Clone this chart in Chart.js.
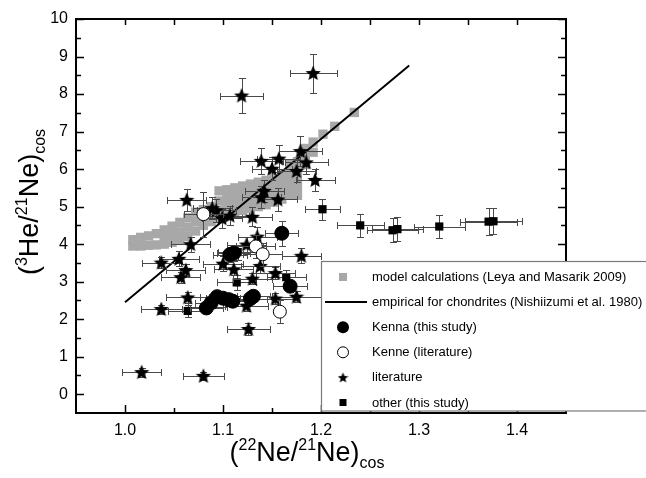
<!DOCTYPE html>
<html>
<head>
<meta charset="utf-8">
<script src="https://cdn.jsdelivr.net/npm/chart.js@4.4.1/dist/chart.umd.min.js"></script>
<style>
  html, body { margin: 0; padding: 0; background: #fff; }
  #wrap { width: 646px; height: 478px; }
</style>
</head>
<body>
<div id="wrap"><canvas id="neChart" width="646" height="478"></canvas></div>
<script>
// model calculations (Leya and Masarik 2009)
const modelX = [
  1.008, 1.008, 1.016, 1.016, 1.024, 1.024, 1.032, 1.032,
  1.040, 1.040, 1.040, 1.048, 1.048, 1.048, 1.056, 1.056, 1.056,
  1.064, 1.064, 1.064, 1.072, 1.072, 1.072, 1.080, 1.080, 1.080,
  1.088, 1.088, 1.088, 1.096, 1.096, 1.096, 1.096, 1.104, 1.104, 1.104, 1.104,
  1.112, 1.112, 1.112, 1.112, 1.120, 1.120, 1.120, 1.120, 1.128, 1.128, 1.128, 1.128,
  1.136, 1.136, 1.136, 1.136, 1.144, 1.144, 1.144, 1.144, 1.152, 1.152, 1.152, 1.152,
  1.160, 1.160, 1.160, 1.160, 1.168, 1.168, 1.168, 1.168, 1.168,
  1.176, 1.176, 1.176, 1.176, 1.176, 1.184, 1.184, 1.184, 1.192, 1.192,
  1.202, 1.214, 1.234
];
const modelY = [
  3.95, 4.12, 3.95, 4.18, 3.97, 4.22, 3.98, 4.28,
  4.0, 4.2, 4.38, 4.05, 4.25, 4.48, 4.1, 4.33, 4.58,
  4.2, 4.45, 4.7, 4.35, 4.6, 4.85, 4.5, 4.72, 4.92,
  4.6, 4.82, 5.0, 4.68, 4.9, 5.15, 5.42, 4.76, 5.0, 5.22, 5.45,
  4.85, 5.05, 5.27, 5.5, 4.9, 5.1, 5.32, 5.55, 4.95, 5.15, 5.37, 5.6,
  5.0, 5.2, 5.42, 5.65, 5.05, 5.27, 5.48, 5.7, 5.12, 5.33, 5.55, 5.75,
  5.2, 5.4, 5.62, 5.85, 5.3, 5.5, 5.72, 5.93, 6.12,
  5.3, 5.52, 5.75, 5.98, 6.2, 6.12, 6.35, 6.55, 6.45, 6.72,
  6.93, 7.14, 7.51
];

// empirical for chondrites (Nishiizumi et al. 1980)
const lineX = [1.0, 1.29];
const lineY = [2.45, 8.76];

// Kenna (this study)
const kennaX = [1.160, 1.107, 1.111, 1.083, 1.088, 1.094, 1.100, 1.106, 1.110, 1.128, 1.131, 1.1685];
const kennaY = [4.29, 3.72, 3.76, 2.30, 2.44, 2.60, 2.56, 2.52, 2.48, 2.55, 2.61, 2.88];
const kennaXErr = [0.017, 0.017, 0.017, 0.017, 0.017, 0.017, 0.017, 0.017, 0.017, 0.017, 0.017, 0.017];
const kennaYErr = [0.33, 0.2, 0.2, 0.12, 0.12, 0.12, 0.12, 0.12, 0.12, 0.12, 0.12, 0.15];

// Kenne (literature)
const kenneX = [1.080, 1.1335, 1.1405, 1.158];
const kenneY = [4.80, 3.94, 3.73, 2.20];
const kenneXErr = [0.02, 0.02, 0.02, 0.0];
const kenneYErr = [0.6, 0.3, 0.3, 0.3];

// literature
const litX = [1.119, 1.192, 1.017, 1.080, 1.126, 1.037, 1.064, 1.124, 1.1535, 1.175,
  1.037, 1.055, 1.062, 1.057, 1.067, 1.100, 1.111, 1.130, 1.138, 1.1535, 1.180, 1.124,
  1.135, 1.063, 1.089, 1.093, 1.099, 1.107, 1.130, 1.139, 1.157, 1.150, 1.179, 1.185,
  1.175, 1.194, 1.142, 1.139, 1.156];
const litY = [7.96, 8.56, 0.59, 0.49, 1.74, 2.27, 2.58, 2.36, 2.55, 2.60,
  3.51, 3.61, 3.31, 3.12, 4.00, 3.48, 3.33, 3.08, 3.42, 3.23, 3.69, 3.99,
  4.20, 5.18, 4.96, 4.90, 4.69, 4.76, 4.73, 6.22, 6.28, 6.01, 6.48, 6.18,
  5.95, 5.71, 5.42, 5.25, 5.19];
const litXErr = [0.022, 0.024, 0.020, 0.021, 0.022, 0.021, 0.022, 0.022, 0.022, 0.025,
  0.020, 0.020, 0.020, 0.020, 0.020, 0.020, 0.020, 0.020, 0.020, 0.020, 0.020, 0.020,
  0.020, 0.020, 0.020, 0.020, 0.020, 0.020, 0.020, 0.022, 0.022, 0.020, 0.022, 0.022,
  0.020, 0.020, 0.020, 0.020, 0.020];
const litYErr = [0.47, 0.52, 0.12, 0.10, 0.15, 0.12, 0.15, 0.15, 0.15, 0.15,
  0.15, 0.20, 0.15, 0.15, 0.20, 0.20, 0.15, 0.15, 0.20, 0.15, 0.20, 0.20,
  0.25, 0.30, 0.30, 0.30, 0.25, 0.25, 0.25, 0.35, 0.35, 0.30, 0.40, 0.30,
  0.30, 0.30, 0.30, 0.30, 0.30];

// other (this study)
const otherX = [1.064, 1.084, 1.114, 1.115, 1.1645, 1.2015, 1.240, 1.273, 1.278, 1.3207, 1.371, 1.376];
const otherY = [2.22, 2.32, 2.98, 3.79, 3.12, 4.93, 4.50, 4.37, 4.40, 4.47, 4.60, 4.61];
const otherXErr = [0.02, 0.02, 0.02, 0.02, 0.02, 0.018, 0.024, 0.026, 0.026, 0.026, 0.029, 0.029];
const otherYErr = [0.15, 0.15, 0.2, 0.2, 0.2, 0.28, 0.3, 0.32, 0.32, 0.3, 0.35, 0.35];

const xTicks = [1.0, 1.1, 1.2, 1.3, 1.4];
const yTicks = [0, 1, 2, 3, 4, 5, 6, 7, 8, 9, 10];

const legendLabels = [
  'model calculations (Leya and Masarik 2009)',
  'empirical for chondrites (Nishiizumi et al. 1980)',
  'Kenna (this study)',
  'Kenne (literature)',
  'literature',
  'other (this study)'
];

const FONT = '"Liberation Sans", Arial, Helvetica, sans-serif';
const GREY = '#a8a8a8';

function pts(xs, ys) {
  return xs.map((x, i) => ({ x: x, y: ys[i] }));
}

function starImage(size) {
  const c = document.createElement('canvas');
  c.width = c.height = size;
  const g = c.getContext('2d');
  const R = size / 2, r = R * 0.45;
  g.beginPath();
  for (let i = 0; i < 10; i++) {
    const a = -Math.PI / 2 + i * Math.PI / 5;
    const rad = i % 2 ? r : R;
    g.lineTo(R + rad * Math.cos(a), R + 0.6 + rad * Math.sin(a));
  }
  g.closePath();
  g.fillStyle = '#000';
  g.fill();
  return c;
}
const starBig = starImage(16);
const starSmall = starImage(11);

// error bars drawn just before each dataset's own points
const errorBars = {
  id: 'errorBars',
  beforeDatasetDraw(chart, args) {
    const ds = chart.data.datasets[args.index];
    if (!ds.xErr) return;
    const xs = chart.scales.x, ys = chart.scales.y;
    const ctx = chart.ctx, a = chart.chartArea;
    ctx.save();
    ctx.beginPath();
    ctx.rect(a.left, a.top, a.right - a.left, a.bottom - a.top);
    ctx.clip();
    ctx.strokeStyle = '#4a4a4a';
    ctx.lineWidth = 1;
    ctx.beginPath();
    ds.data.forEach((p, i) => {
      const px = Math.round(xs.getPixelForValue(p.x)) + 0.5;
      const py = Math.round(ys.getPixelForValue(p.y)) + 0.5;
      const cap = 3.5;
      if (ds.xErr[i] > 0) {
        const x0 = Math.round(xs.getPixelForValue(p.x - ds.xErr[i])) + 0.5;
        const x1 = Math.round(xs.getPixelForValue(p.x + ds.xErr[i])) + 0.5;
        ctx.moveTo(x0, py); ctx.lineTo(x1, py);
        ctx.moveTo(x0, py - cap); ctx.lineTo(x0, py + cap);
        ctx.moveTo(x1, py - cap); ctx.lineTo(x1, py + cap);
      }
      if (ds.yErr[i] > 0) {
        const y0 = Math.round(ys.getPixelForValue(p.y - ds.yErr[i])) + 0.5;
        const y1 = Math.round(ys.getPixelForValue(p.y + ds.yErr[i])) + 0.5;
        ctx.moveTo(px, y0); ctx.lineTo(px, y1);
        ctx.moveTo(px - cap, y0); ctx.lineTo(px + cap, y0);
        ctx.moveTo(px - cap, y1); ctx.lineTo(px + cap, y1);
      }
    });
    ctx.stroke();
    ctx.restore();
  }
};

function drawRich(ctx, parts, cx, baseline) {
  let total = 0;
  parts.forEach(p => {
    ctx.font = p.size + 'px ' + FONT;
    p.w = ctx.measureText(p.t).width;
    total += p.w;
  });
  let x = cx - total / 2;
  ctx.textAlign = 'left';
  ctx.textBaseline = 'alphabetic';
  parts.forEach(p => {
    ctx.font = p.size + 'px ' + FONT;
    ctx.fillText(p.t, x, baseline + p.dy);
    x += p.w;
  });
}

// frame, inward ticks, axis titles and the boxed legend
const decorations = {
  id: 'decorations',
  afterDraw(chart) {
    const ctx = chart.ctx, a = chart.chartArea;
    const xs = chart.scales.x, ys = chart.scales.y;
    ctx.save();
    ctx.strokeStyle = '#000';
    ctx.lineWidth = 1.5;
    ctx.beginPath();
    // y ticks, left and right, major and half-step minor
    yTicks.forEach((v, i) => {
      const py = Math.round(ys.getPixelForValue(v)) + 0.5;
      ctx.moveTo(a.left, py); ctx.lineTo(a.left + 8, py);
      ctx.moveTo(a.right, py); ctx.lineTo(a.right - 8, py);
      const mv = i < yTicks.length - 1 ? (v + yTicks[i + 1]) / 2 : null;
      if (mv !== null) {
        const my = Math.round(ys.getPixelForValue(mv)) + 0.5;
        ctx.moveTo(a.left, my); ctx.lineTo(a.left + 5, my);
        ctx.moveTo(a.right, my); ctx.lineTo(a.right - 5, my);
      }
    });
    // x ticks, bottom major/minor, top every half step
    xTicks.forEach((v, i) => {
      const px = Math.round(xs.getPixelForValue(v)) + 0.5;
      ctx.moveTo(px, a.bottom); ctx.lineTo(px, a.bottom - 8);
      ctx.moveTo(px, a.top); ctx.lineTo(px, a.top + 6);
      if (i < xTicks.length - 1) {
        const mx = Math.round(xs.getPixelForValue((v + xTicks[i + 1]) / 2)) + 0.5;
        ctx.moveTo(mx, a.bottom); ctx.lineTo(mx, a.bottom - 5);
        ctx.moveTo(mx, a.top); ctx.lineTo(mx, a.top + 6);
      }
    });
    ctx.stroke();

    // plot frame
    ctx.strokeStyle = '#000';
    ctx.lineWidth = 2;
    ctx.strokeRect(a.left, a.top, a.right - a.left, a.bottom - a.top);

    // legend box, drawn over the plot
    const lx = 321.5, ly = 261.5, lb = 411;
    ctx.fillStyle = '#fff';
    ctx.fillRect(lx, ly, 646 - lx, lb - ly);
    ctx.strokeStyle = '#7a7a7a';
    ctx.lineWidth = 1.2;
    ctx.strokeRect(lx, ly, 660 - lx, lb - ly);

    // legend entries
    const symX = 343, textX = 372, row0 = 277, rowH = 25.1;
    legendLabels.forEach((label, i) => {
      const cy = row0 + i * rowH;
      ctx.fillStyle = '#000';
      ctx.strokeStyle = '#000';
      if (i === 0) {
        ctx.fillStyle = GREY;
        ctx.fillRect(symX - 4, cy - 4, 8, 8);
      } else if (i === 1) {
        ctx.lineWidth = 2;
        ctx.beginPath(); ctx.moveTo(325, cy); ctx.lineTo(367, cy); ctx.stroke();
      } else if (i === 2) {
        ctx.beginPath(); ctx.arc(symX, cy, 6, 0, Math.PI * 2); ctx.fill();
      } else if (i === 3) {
        ctx.lineWidth = 1;
        ctx.beginPath(); ctx.arc(symX, cy, 5.5, 0, Math.PI * 2);
        ctx.fillStyle = '#fff'; ctx.fill(); ctx.stroke();
      } else if (i === 4) {
        ctx.drawImage(starSmall, symX - 5.5, cy - 5.5);
      } else {
        ctx.fillRect(symX - 3.5, cy - 3.5, 7, 7);
      }
      ctx.fillStyle = '#000';
      ctx.font = '13px ' + FONT;
      ctx.textAlign = 'left';
      ctx.textBaseline = 'middle';
      ctx.fillText(label, textX, cy + 0.5);
    });

    // axis titles
    ctx.fillStyle = '#000';
    drawRich(ctx, [
      { t: '(', size: 27, dy: 0 },
      { t: '22', size: 16, dy: -11 },
      { t: 'Ne/', size: 27, dy: 0 },
      { t: '21', size: 16, dy: -11 },
      { t: 'Ne)', size: 27, dy: 0 },
      { t: 'cos', size: 16, dy: 7 }
    ], 307, 461);

    ctx.translate(38, 202);
    ctx.rotate(-Math.PI / 2);
    drawRich(ctx, [
      { t: '(', size: 27, dy: 0 },
      { t: '3', size: 16, dy: -11 },
      { t: 'He/', size: 27, dy: 0 },
      { t: '21', size: 16, dy: -11 },
      { t: 'Ne)', size: 27, dy: 0 },
      { t: 'cos', size: 16, dy: 7 }
    ], 0, 0);
    ctx.restore();
  }
};

const tickFont = { family: FONT, size: 16 };

new Chart(document.getElementById('neChart').getContext('2d'), {
  type: 'scatter',
  data: {
    datasets: [
      {
        label: legendLabels[2],
        data: pts(kennaX, kennaY),
        xErr: kennaXErr, yErr: kennaYErr,
        pointStyle: 'circle', pointRadius: 7,
        backgroundColor: '#000', borderColor: '#000', borderWidth: 1,
        order: 1
      },
      {
        label: legendLabels[3],
        data: pts(kenneX, kenneY),
        xErr: kenneXErr, yErr: kenneYErr,
        pointStyle: 'circle', pointRadius: 6.5,
        backgroundColor: '#fff', borderColor: '#000', borderWidth: 1,
        order: 2
      },
      {
        label: legendLabels[4],
        data: pts(litX, litY),
        xErr: litXErr, yErr: litYErr,
        pointStyle: starBig, pointRadius: 8,
        backgroundColor: '#000', borderColor: '#000',
        order: 3
      },
      {
        label: legendLabels[5],
        data: pts(otherX, otherY),
        xErr: otherXErr, yErr: otherYErr,
        pointStyle: 'rect', pointRadius: 5.8,
        backgroundColor: '#000', borderColor: '#000', borderWidth: 0,
        order: 4
      },
      {
        type: 'line',
        label: legendLabels[1],
        data: pts(lineX, lineY),
        borderColor: '#000', borderWidth: 2,
        pointRadius: 0, showLine: true, fill: false,
        order: 9
      },
      {
        label: legendLabels[0],
        data: pts(modelX, modelY),
        pointStyle: 'rect', pointRadius: 6.6,
        backgroundColor: GREY, borderColor: GREY, borderWidth: 0,
        order: 10
      }
    ]
  },
  options: {
    responsive: false,
    animation: false,
    events: [],
    layout: { padding: { top: 19, right: 80, left: 0, bottom: 0 } },
    plugins: {
      legend: { display: false },
      tooltip: { enabled: false }
    },
    scales: {
      x: {
        type: 'linear',
        min: 0.95, max: 1.45,
        grid: { display: false, drawTicks: false },
        border: { display: false },
        afterFit(s) { s.height = 65; },
        afterBuildTicks(s) { s.ticks = xTicks.map(v => ({ value: v })); },
        ticks: {
          padding: 8, color: '#000', font: tickFont,
          autoSkip: false, maxRotation: 0,
          callback: v => Number(v).toFixed(1)
        }
      },
      y: {
        type: 'linear',
        min: -0.5, max: 10,
        grid: { display: false, drawTicks: false },
        border: { display: false },
        afterFit(s) { s.width = 76; },
        afterBuildTicks(s) { s.ticks = yTicks.map(v => ({ value: v })); },
        ticks: {
          padding: 8, color: '#000', font: tickFont,
          autoSkip: false,
          callback: v => String(v)
        }
      }
    }
  },
  plugins: [errorBars, decorations]
});
</script>
</body>
</html>
